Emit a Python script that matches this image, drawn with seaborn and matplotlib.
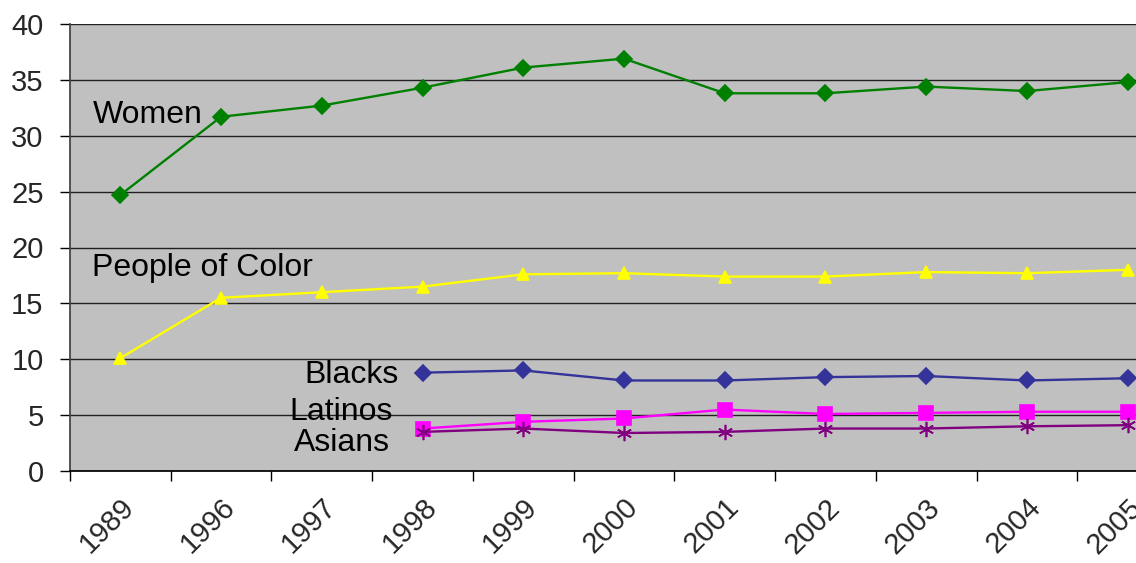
import numpy as np
import pandas as pd
import matplotlib
matplotlib.use("Agg")
import matplotlib.pyplot as plt
import seaborn as sns

years = ["1989", "1996", "1997", "1998", "1999", "2000", "2001", "2002", "2003", "2004", "2005"]
women = [24.7, 31.7, 32.7, 34.3, 36.1, 36.9, 33.8, 33.8, 34.4, 34.0, 34.8]
people_of_color = [10.1, 15.5, 16.0, 16.5, 17.6, 17.7, 17.4, 17.4, 17.8, 17.7, 18.0]
blacks = [None, None, None, 8.8, 9.0, 8.1, 8.1, 8.4, 8.5, 8.1, 8.3]
latinos = [None, None, None, 3.8, 4.4, 4.7, 5.5, 5.1, 5.2, 5.3, 5.3]
asians = [None, None, None, 3.5, 3.8, 3.4, 3.5, 3.8, 3.8, 4.0, 4.1]

sns.set_theme(style="white")
plt.rcParams['font.family'] = ['Liberation Sans', 'DejaVu Sans']

series = {
    "Women": (women, "#008000", "D", 8),
    "People of Color": (people_of_color, "#FFFF00", "^", 9),
    "Blacks": (blacks, "#333399", "D", 8),
    "Latinos": (latinos, "#FF00FF", "s", 10),
    "Asians": (asians, "#800080", (6, 2, 0), 11),
}

fig = plt.figure(figsize=(11.36, 5.63), dpi=100)
ax = fig.add_axes([70 / 1136, 1 - 471 / 563, 1108 / 1136, 447 / 563])
ax.set_facecolor("#C0C0C0")

pos = np.arange(len(years))
for name, (vals, color, marker, ms) in series.items():
    df = pd.DataFrame({"x": pos, "y": vals}).dropna()
    sns.lineplot(data=df, x="x", y="y", ax=ax, color=color, marker=marker,
                 markersize=ms, markeredgecolor=color, markeredgewidth=1.2,
                 linewidth=1.7, clip_on=False)

# gridlines
ax.set_ylim(0, 40)
ax.set_xlim(-0.5, len(years) - 0.5)
ax.set_yticks(np.arange(0, 41, 5))
ax.yaxis.grid(True, color="#202020", linewidth=1)
ax.set_axisbelow(True)

# category labels at centers, tick marks at boundaries
ax.set_xticks(pos)
ax.set_xticklabels(years, rotation=45, ha="right", rotation_mode="anchor", fontsize=21)
ax.set_xticks(np.arange(-0.5, len(years), 1), minor=True)
ax.tick_params(axis="x", which="major", length=0, pad=16)
ax.tick_params(axis="x", which="minor", length=7, width=1, color="black", direction="out", bottom=True)
ax.tick_params(axis="y", length=7, width=1, color="black", direction="out", left=True, labelsize=21, pad=12)
ax.set_xlabel("")
ax.set_ylabel("")

for side in ["top", "right"]:
    ax.spines[side].set_visible(False)
ax.spines["left"].set_color("#404040")
ax.spines["bottom"].set_color("black")

# series labels
lbl = dict(fontsize=23, color="black")
ax.text(-0.27, 31.9, "Women", ha="left", va="center", **lbl)
ax.text(-0.28, 18.2, "People of Color", ha="left", va="center", **lbl)
ax.text(2.76, 8.6, "Blacks", ha="right", va="center", **lbl)
ax.text(2.70, 5.3, "Latinos", ha="right", va="center", **lbl)
ax.text(2.68, 2.5, "Asians", ha="right", va="center", **lbl)

fig.savefig("out.png", dpi=100)
